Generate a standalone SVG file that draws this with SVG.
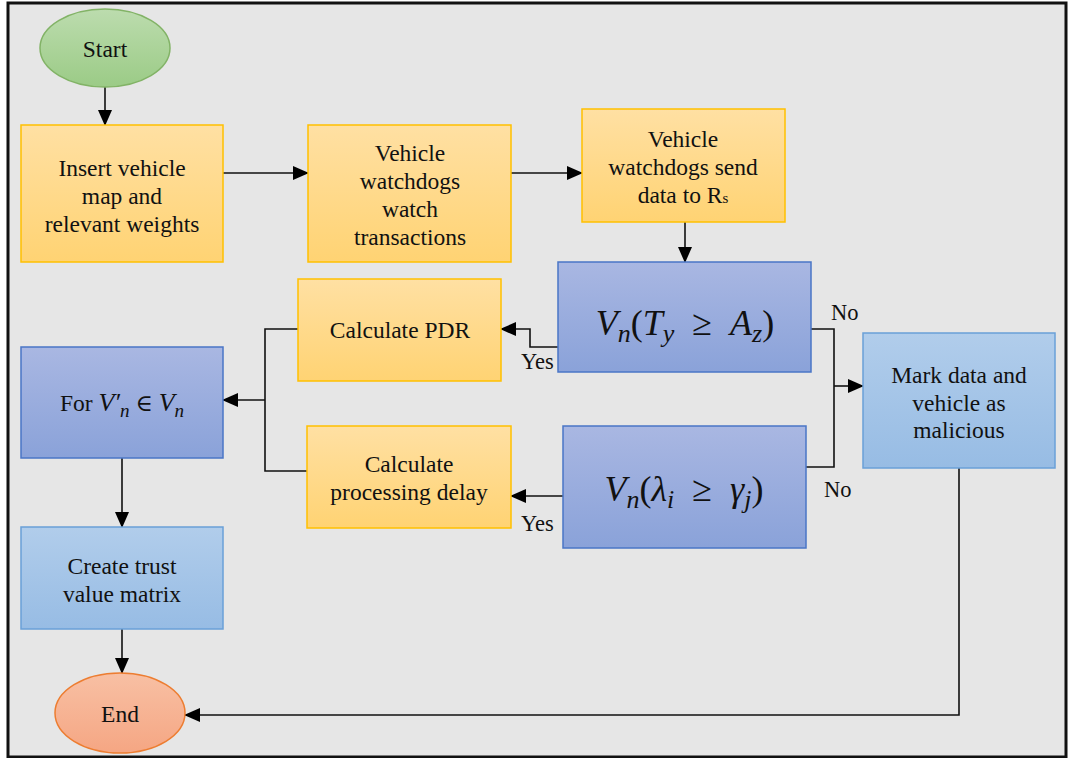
<svg xmlns="http://www.w3.org/2000/svg" width="1069" height="758" viewBox="0 0 1069 758">
<defs>
<linearGradient id="gGreen" x1="0" y1="0" x2="0" y2="1"><stop offset="0" stop-color="#bcdcae"/><stop offset="1" stop-color="#9bcb86"/></linearGradient>
<linearGradient id="gYellow" x1="0" y1="0" x2="0" y2="1"><stop offset="0" stop-color="#ffe0a3"/><stop offset="1" stop-color="#ffd373"/></linearGradient>
<linearGradient id="gDec" x1="0" y1="0" x2="0" y2="1"><stop offset="0" stop-color="#a9b7e2"/><stop offset="1" stop-color="#8aa2d9"/></linearGradient>
<linearGradient id="gLight" x1="0" y1="0" x2="0" y2="1"><stop offset="0" stop-color="#b1cdeb"/><stop offset="1" stop-color="#97bce4"/></linearGradient>
<linearGradient id="gOrange" x1="0" y1="0" x2="0" y2="1"><stop offset="0" stop-color="#f8c0a4"/><stop offset="1" stop-color="#f5a683"/></linearGradient>
<marker id="arr" markerUnits="userSpaceOnUse" markerWidth="16" markerHeight="14" refX="15" refY="7" orient="auto"><path d="M0,0 L16,7 L0,14 Z" fill="#000"/></marker>
<style>
text{font-family:'Liberation Serif','DejaVu Serif',serif}
.t{font-size:23.5px;fill:#111;text-anchor:middle}
.m{font-size:36px;font-style:italic;fill:#111;text-anchor:middle}
.lbl{font-size:22.5px;fill:#111}
.yel{fill:url(#gYellow);stroke:#ffc000;stroke-width:1.5}
.dec{fill:url(#gDec);stroke:#4a76c6;stroke-width:1.5}
.lb{fill:url(#gLight);stroke:#6aa0d8;stroke-width:1.5}
.c{fill:none;stroke:#111;stroke-width:1.6}
.ca{fill:none;stroke:#111;stroke-width:1.6;marker-end:url(#arr)}
</style>
</defs>
<rect x="8" y="3" width="1058" height="754" fill="#e6e6e6" stroke="#111" stroke-width="3"/>

<g id="connectors">
<path class="ca" d="M105,87 V125"/>
<path class="ca" d="M223,173 H308"/>
<path class="ca" d="M511,173 H582"/>
<path class="ca" d="M685,222 V262"/>
<path class="ca" d="M558,347 H530 V329 H501"/>
<path class="ca" d="M563,496 H511"/>
<path class="c" d="M298,329 H265 V471 H307"/>
<path class="ca" d="M265,400 H223"/>
<path class="c" d="M811,329 H834 V467 H806"/>
<path class="ca" d="M834,386 H863"/>
<path class="ca" d="M122,458 V527"/>
<path class="ca" d="M122,629 V673"/>
<path class="ca" d="M959,468 V715 H185"/>
<text class="lbl" x="831" y="320">No</text>
<text class="lbl" x="824" y="497">No</text>
<text class="lbl" x="521" y="369">Yes</text>
<text class="lbl" x="521" y="531">Yes</text>
</g>

<g id="start">
<ellipse cx="105" cy="48" rx="65" ry="39" fill="url(#gGreen)" stroke="#82b366" stroke-width="1.5"/>
<text class="t" x="105" y="57">Start</text>
</g>

<g id="insert">
<rect class="yel" x="21" y="125" width="202" height="137"/>
<text class="t" x="122" y="176">Insert vehicle</text>
<text class="t" x="122" y="204">map and</text>
<text class="t" x="122" y="232">relevant weights</text>
</g>

<g id="watch">
<rect class="yel" x="308" y="125" width="203" height="137"/>
<text class="t" x="410" y="161">Vehicle</text>
<text class="t" x="410" y="189">watchdogs</text>
<text class="t" x="410" y="217">watch</text>
<text class="t" x="410" y="245">transactions</text>
</g>

<g id="send">
<rect class="yel" x="582" y="109" width="203" height="113"/>
<text class="t" x="683" y="147">Vehicle</text>
<text class="t" x="683" y="175">watchdogs send</text>
<text class="t" x="683" y="203">data to R<tspan font-size="15">s</tspan></text>
</g>

<g id="decision1">
<rect class="dec" x="558" y="262" width="253" height="110"/>
<text class="m" x="685" y="335">V<tspan font-size="26" dy="7">n</tspan><tspan dy="-7" font-style="normal">(</tspan>T<tspan font-size="26" dy="7">y</tspan><tspan dy="-7" font-style="normal">&#160;&#160;≥&#160;&#160;</tspan>A<tspan font-size="26" dy="7">z</tspan><tspan dy="-7" font-style="normal">)</tspan></text>
</g>

<g id="pdr">
<rect class="yel" x="298" y="279" width="203" height="102"/>
<text class="t" x="400" y="338">Calculate PDR</text>
</g>

<g id="delay">
<rect class="yel" x="307" y="426" width="204" height="102"/>
<text class="t" x="409" y="472">Calculate</text>
<text class="t" x="409" y="500">processing delay</text>
</g>

<g id="decision2">
<rect class="dec" x="563" y="426" width="243" height="122"/>
<text class="m" x="684" y="501">V<tspan font-size="26" dy="7">n</tspan><tspan dy="-7" font-style="normal">(</tspan>λ<tspan font-size="26" dy="7">i</tspan><tspan dy="-7" font-style="normal">&#160;&#160;≥&#160;&#160;</tspan>γ<tspan font-size="26" dy="7">j</tspan><tspan dy="-7" font-style="normal">)</tspan></text>
</g>

<g id="forloop">
<rect class="dec" x="21" y="347" width="202" height="111"/>
<text class="t" x="122" y="411">For <tspan font-style="italic" font-size="26">V′</tspan><tspan font-style="italic" font-size="19" dy="6">n</tspan><tspan dy="-6"> ∈ </tspan><tspan font-style="italic" font-size="26">V</tspan><tspan font-style="italic" font-size="19" dy="6">n</tspan></text>
</g>

<g id="mark">
<rect class="lb" x="863" y="333" width="192" height="135"/>
<text class="t" x="959" y="383">Mark data and</text>
<text class="t" x="959" y="411">vehicle as</text>
<text class="t" x="959" y="438">malicious</text>
</g>

<g id="create">
<rect class="lb" x="21" y="527" width="202" height="102"/>
<text class="t" x="122" y="574">Create trust</text>
<text class="t" x="122" y="602">value matrix</text>
</g>

<g id="end">
<ellipse cx="120" cy="713" rx="65" ry="40" fill="url(#gOrange)" stroke="#ed7d31" stroke-width="1.5"/>
<text class="t" x="120" y="722">End</text>
</g>
</svg>
